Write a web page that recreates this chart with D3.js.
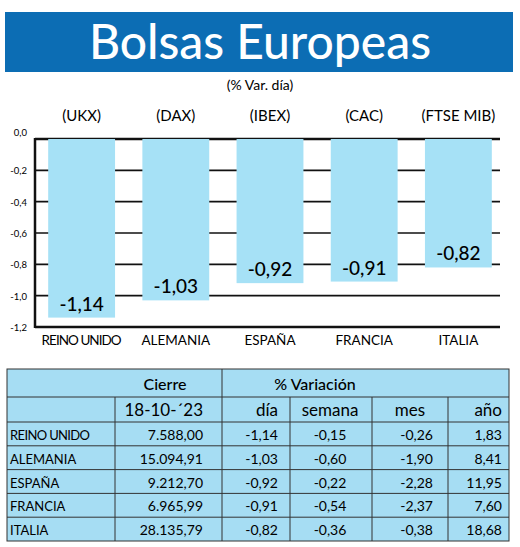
<!DOCTYPE html><html><head><meta charset="utf-8"><script src="https://cdn.jsdelivr.net/npm/d3@7"></script>
<style>body{margin:0;background:#fff}svg{font-family:Lato,"Open Sans",sans-serif}</style></head><body><svg width="520" height="547"></svg>
<script>
const countries=["REINO UNIDO","ALEMANIA","ESPAÑA","FRANCIA","ITALIA"];
const indices=["(UKX)","(DAX)","(IBEX)","(CAC)","(FTSE MIB)"];
const dia=[-1.14,-1.03,-0.92,-0.91,-0.82];
const cierre=["7.588,00","15.094,91","9.212,70","6.965,99","28.135,79"];
const semana=["-0,15","-0,60","-0,22","-0,54","-0,36"];
const mes=["-0,26","-1,90","-2,28","-2,37","-0,38"];
const anio=["1,83","8,41","11,95","7,60","18,68"];
const yTicks=[0,-0.2,-0.4,-0.6,-0.8,-1.0,-1.2];
const fmt=v=>d3.format(".2f")(v).replace(".",",").replace("−","-");
const svg=d3.select("svg");
svg.append("rect").attr("x",5).attr("y",12).attr("width",508).attr("height",60).attr("fill","#0c6db4");
svg.append("text").attr("x",260).attr("y",59).attr("text-anchor","middle").attr("fill","#fff").attr("font-size",48).attr("font-weight",500).text("Bolsas Europeas");
svg.append("text").attr("x",260).attr("y",90).attr("text-anchor","middle").attr("font-size",14).text("(% Var. día)");
const x=d3.scaleBand().domain(countries).range([35,505]).paddingInner(0.29).paddingOuter(0.14);
const y=d3.scaleLinear().domain([-1.2,0]).range([327,139]);
const g=svg.append("g");
yTicks.forEach(t=>{g.append("line").attr("x1",35).attr("x2",500).attr("y1",y(t)).attr("y2",y(t)).attr("stroke","#111").attr("stroke-width",t===0||t===-1.2?2.5:1.6);
 g.append("text").attr("x",27).attr("y",y(t)+(t===0?-3:4)).attr("text-anchor","end").attr("font-size",9.5).text(d3.format(".1f")(t).replace(".",",").replace("−","-"));});
g.append("line").attr("x1",35).attr("x2",35).attr("y1",138).attr("y2",328).attr("stroke","#111").attr("stroke-width",2.5);
countries.forEach((c,i)=>{
 g.append("rect").attr("x",x(c)).attr("y",y(0)).attr("width",x.bandwidth()).attr("height",y(dia[i])-y(0)).attr("fill","#a6e1f6");
 g.append("text").attr("x",x(c)+x.bandwidth()/2).attr("y",y(dia[i])-7).attr("text-anchor","middle").attr("font-size",19).attr("font-weight",500).text(fmt(dia[i]));
 g.append("text").attr("x",x(c)+x.bandwidth()/2).attr("y",121).attr("text-anchor","middle").attr("font-size",15).text(indices[i]);
 g.append("text").attr("x",x(c)+x.bandwidth()/2).attr("y",345).attr("text-anchor","middle").attr("font-size",13.5).attr("textLength",i==0?80:null).text(c);
});
const T=svg.append("g");
T.append("rect").attr("x",7).attr("y",369).attr("width",502).attr("height",172).attr("fill","#a6ddf3").attr("stroke","#333").attr("stroke-width",1);
const rowY=d3.range(6).map(i=>422+i*23.8);
T.append("line").attr("x1",222).attr("x2",222).attr("y1",369).attr("y2",541).attr("stroke","#333");
[115,290,372,448].forEach(cx=>T.append("line").attr("x1",cx).attr("x2",cx).attr("y1",397).attr("y2",541).attr("stroke","#333"));
T.append("line").attr("x1",7).attr("x2",509).attr("y1",397).attr("y2",397).attr("stroke","#333");
T.append("line").attr("x1",7).attr("x2",509).attr("y1",422).attr("y2",422).attr("stroke","#333");
for(let i=1;i<5;i++)T.append("line").attr("x1",7).attr("x2",509).attr("y1",rowY[i]).attr("y2",rowY[i]).attr("stroke","#333");
T.append("text").attr("x",165).attr("y",390).attr("text-anchor","middle").attr("font-size",16).attr("font-weight",500).text("Cierre");
T.append("text").attr("x",315).attr("y",390).attr("text-anchor","middle").attr("font-size",16).attr("font-weight",500).text("% Variación");
const heads=["18-10-´23","día","semana","mes","año"];
const rx=[203,278,365,433,502];
heads.forEach((h,j)=>T.append("text").attr("x",j==2?330:(j==3?410:rx[j])).attr("y",416).attr("text-anchor",j==2||j==3?"middle":"end").attr("font-size",17).text(h));
countries.forEach((c,i)=>{
 const yy=rowY[i]+18;
 const vals=[cierre[i],fmt(dia[i]),semana[i],mes[i],anio[i]];
 T.append("text").attr("x",10).attr("y",yy).attr("font-size",13).attr("textLength",i==0?80:null).text(c);
 vals.forEach((v,j)=>T.append("text").attr("x",j==2?330:rx[j]).attr("y",yy).attr("text-anchor",j==2?"middle":"end").attr("font-size",14).text(v));
});
</script></body></html>
